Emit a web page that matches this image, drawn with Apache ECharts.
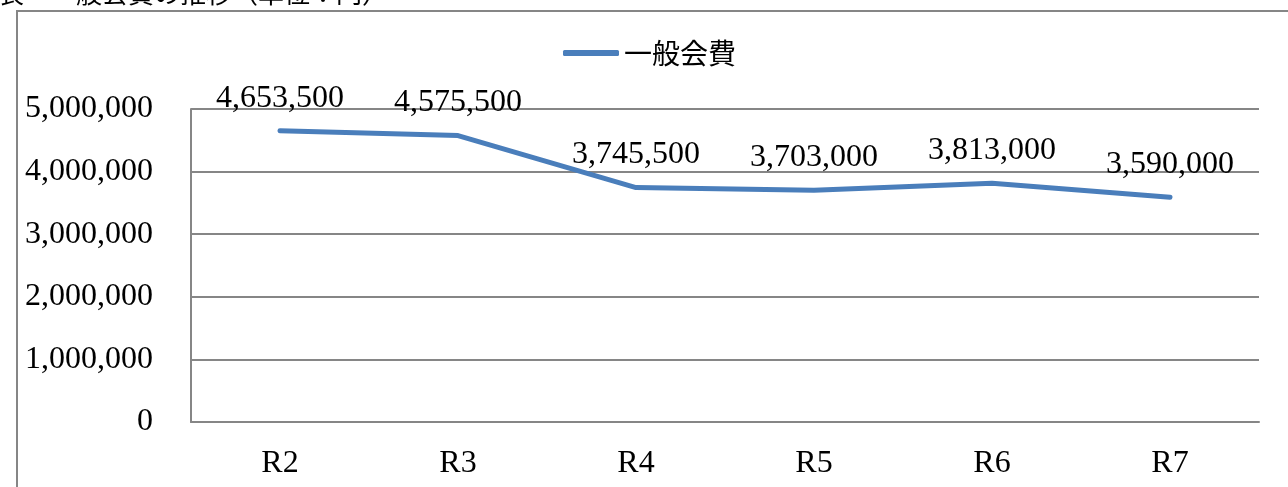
<!DOCTYPE html>
<html>
<head>
<meta charset="utf-8">
<script src="https://cdn.jsdelivr.net/npm/echarts@6/dist/echarts.min.js"></script>
<style>
  html, body { margin: 0; padding: 0; background: #fff; }
  #chart { width: 1288px; height: 487px; }
</style>
</head>
<body>
<div id="chart"></div>
<script>
const categories = ['R2', 'R3', 'R4', 'R5', 'R6', 'R7']
const seriesName = '一般会費'
const values = [4653500, 4575500, 3745500, 3703000, 3813000, 3590000]
const yMax = 5000000
const yStep = 1000000

const serif = '"Liberation Serif", "DejaVu Serif", serif'
const gridColor = '#868686'

const chart = echarts.init(document.getElementById('chart'))

const fmt = v => v.toLocaleString('en-US')

chart.setOption({
  backgroundColor: '#ffffff',
  animation: false,
  graphic: [
    {
      type: 'rect',
      shape: { x: 17, y: 11, width: 1300, height: 500 },
      style: { fill: 'none', stroke: gridColor, lineWidth: 2 },
      silent: true
    },
    {
      type: 'text',
      left: -2,
      top: -20,
      style: {
        text: '表　一般会費の推移（単位：円）',
        font: '26px "Noto Sans CJK JP", sans-serif',
        fill: '#000'
      },
      silent: true
    }
  ],
  legend: {
    data: [seriesName],
    top: 34,
    left: 558,
    itemWidth: 56,
    itemHeight: 6,
    itemGap: 4,
    icon: 'roundRect',
    textStyle: {
      fontFamily: '"Noto Sans CJK JP", sans-serif',
      fontSize: 28,
      color: '#000'
    }
  },
  grid: {
    left: 191,
    right: 29,
    top: 109,
    bottom: 65,
    containLabel: false
  },
  xAxis: {
    type: 'category',
    data: categories,
    boundaryGap: true,
    axisLine: { lineStyle: { color: gridColor, width: 2 } },
    axisTick: { show: false },
    axisLabel: {
      fontFamily: serif,
      fontSize: 32,
      color: '#000',
      margin: 26
    }
  },
  yAxis: {
    type: 'value',
    min: 0,
    max: yMax,
    interval: yStep,
    axisLine: { show: true, lineStyle: { color: gridColor, width: 2 } },
    axisTick: { show: false },
    splitLine: { lineStyle: { color: gridColor, width: 2 } },
    axisLabel: {
      fontFamily: serif,
      fontSize: 32,
      color: '#000',
      margin: 38,
      verticalAlign: 'middle',
      padding: [4, 0, 0, 0],
      formatter: v => fmt(v)
    }
  },
  series: [
    {
      name: seriesName,
      type: 'line',
      data: values,
      symbol: 'circle',
      symbolSize: 1,
      showSymbol: true,
      lineStyle: { color: '#4a7ebb', width: 5, cap: 'round', join: 'round' },
      itemStyle: { color: '#4a7ebb' },
      label: {
        show: true,
        position: 'top',
        distance: 16,
        fontFamily: serif,
        fontSize: 32,
        color: '#000',
        formatter: p => fmt(p.value)
      },
      labelLayout: { hideOverlap: false }
    }
  ]
})
</script>
</body>
</html>
